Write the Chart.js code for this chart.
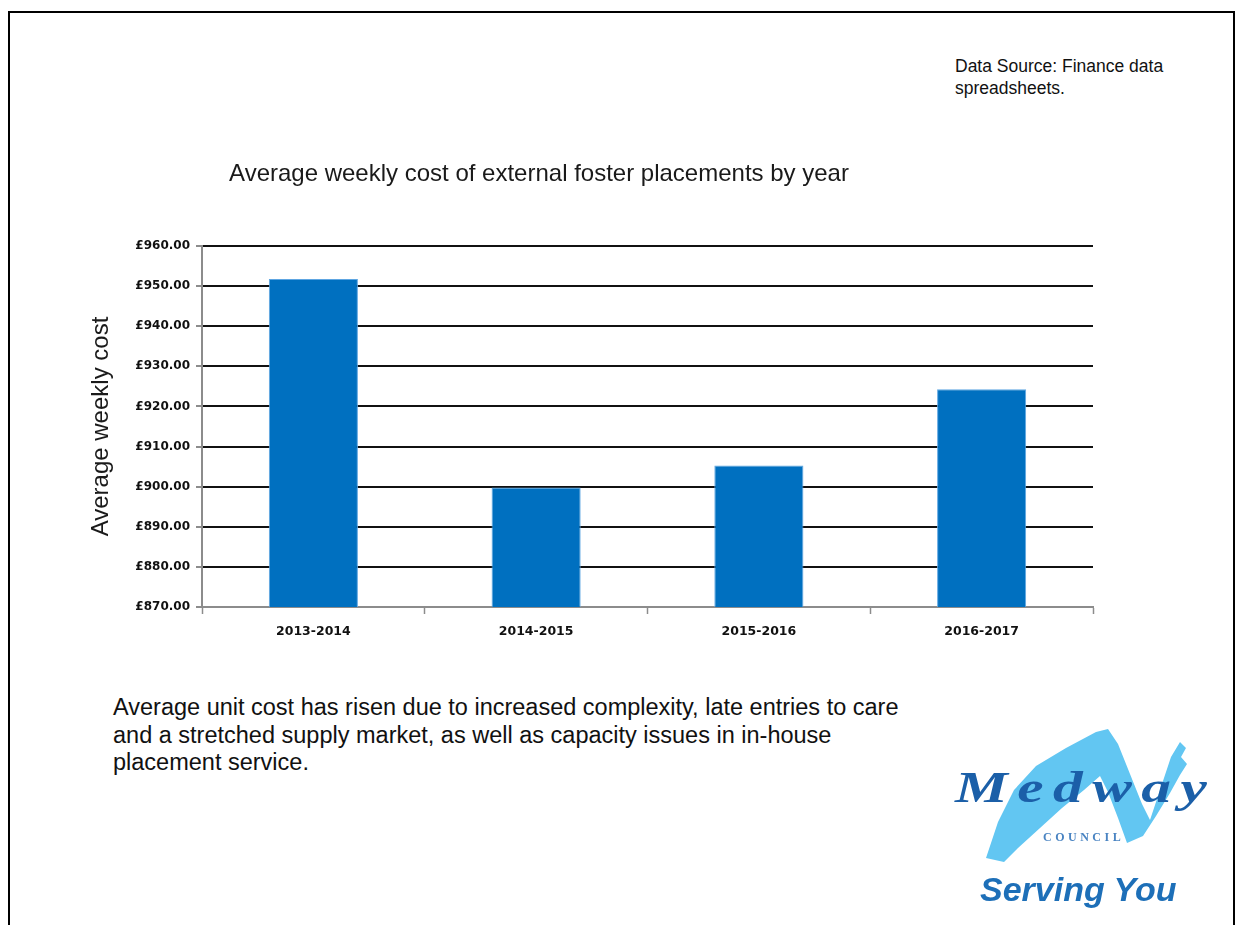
<!DOCTYPE html>
<html>
<head>
<meta charset="utf-8">
<title>Average weekly cost of external foster placements by year</title>
<script src="https://cdn.jsdelivr.net/npm/chart.js@4.4.0/dist/chart.umd.min.js"></script>
<style>
  html, body {
    margin: 0;
    padding: 0;
    background: #fff;
    width: 1237px;
    height: 925px;
    overflow: hidden;
    position: relative;
    font-family: "Liberation Sans", Arial, sans-serif;
    color: #111;
  }
  .frame {
    position: absolute;
    left: 8px;
    top: 11px;
    width: 1227px;
    height: 1000px;
    border: 2px solid #000;
    box-sizing: border-box;
  }
  .source {
    position: absolute;
    left: 955px;
    top: 55px;
    font-size: 17.5px;
    line-height: 22px;
    color: #111;
  }
  #chartBox {
    position: absolute;
    left: -15px;
    top: 0;
    width: 1130px;
    height: 680px;
  }
  .note {
    position: absolute;
    left: 113px;
    top: 694px;
    font-size: 23.5px;
    line-height: 27.5px;
    color: #111;
    white-space: nowrap;
  }
  .logo-wave {
    position: absolute;
    left: 0;
    top: 0;
  }
  .medway {
    position: absolute;
    left: 955px;
    top: 766px;
    font-family: "Liberation Serif", "Times New Roman", serif;
    font-weight: bold;
    font-style: italic;
    font-size: 44px;
    line-height: 1;
    letter-spacing: 7px;
    color: #1b5fa8;
    white-space: nowrap;
    transform: scaleX(1.35);
    transform-origin: 0 0;
  }
  .council {
    position: absolute;
    left: 1043px;
    top: 831px;
    font-family: "Liberation Serif", "Times New Roman", serif;
    font-weight: bold;
    font-size: 12px;
    line-height: 1;
    letter-spacing: 3.5px;
    color: #4a84c2;
    white-space: nowrap;
  }
  .serving {
    position: absolute;
    left: 980px;
    top: 872px;
    font-family: "Liberation Sans", Arial, sans-serif;
    font-weight: bold;
    font-style: italic;
    font-size: 34px;
    line-height: 1;
    color: #1d6fb8;
    white-space: nowrap;
  }
</style>
</head>
<body>
<div class="frame"></div>

<div class="source">Data Source: Finance data<br>spreadsheets.</div>

<div id="chartBox"><canvas id="chart" width="1130" height="680"></canvas></div>

<div class="note">Average unit cost has risen due to increased complexity, late entries to care<br>and a stretched supply market, as well as capacity issues in in-house<br>placement service.</div>

<!-- council logo -->
<svg class="logo-wave" width="1237" height="925" viewBox="0 0 1237 925">
  <path fill="#62c6f2" d="M986 858 L998 822 L1014 790 L1036 766 L1066 748 L1096 732 L1108 729
    L1118 744 L1130 774 L1142 804 L1150 820 L1160 790 L1171 757 L1180 742
    L1186 748 L1181 757 L1187 764 L1180 775 L1170 793 L1156 816 L1143 836 L1127 843
    L1118 818 L1108 792 L1100 776 L1084 790 L1062 808 L1040 828 L1018 848 L1004 862 Z"/>
</svg>
<div class="medway">Medway</div>
<div class="council">COUNCIL</div>
<div class="serving">Serving You</div>

<script>
// Financial years on the category axis
const years = ['2013-2014', '2014-2015', '2015-2016', '2016-2017'];
// Average weekly cost (£) per year
const weeklyCost = [951.8, 899.8, 905.3, 924.3];
// Value axis range and step (£)
const axisMin = 870;
const axisMax = 960;
const axisStep = 10;

const chartTitle = 'Average weekly cost of external foster placements by year';
const yAxisTitle = 'Average weekly cost';

const AXIS_GREY = '#8c8c8c';

new Chart(document.getElementById('chart'), {
  type: 'bar',
  data: {
    labels: years,
    datasets: [{
      data: weeklyCost,
      backgroundColor: '#0070c0',
      borderColor: '#5ea6e2',
      borderWidth: 1,
      categoryPercentage: 1.0,
      barPercentage: 0.4
    }]
  },
  options: {
    responsive: false,
    animation: false,
    layout: {
      padding: { top: 140, left: 0, right: 22, bottom: 0 }
    },
    plugins: {
      legend: { display: false },
      tooltip: { enabled: false },
      title: {
        display: true,
        text: chartTitle,
        color: '#1a1a1a',
        font: { family: '"Liberation Sans", Arial, sans-serif', size: 24, weight: 'normal' },
        padding: { top: 20, bottom: 57.2 }
      }
    },
    scales: {
      x: {
        border: { display: true, color: AXIS_GREY, width: 2 },
        grid: {
          display: true,
          drawOnChartArea: false,
          drawTicks: true,
          tickLength: 7,
          tickColor: AXIS_GREY,
          tickWidth: 1.5
        },
        ticks: {
          color: '#111',
          padding: 10,
          font: { family: '"DejaVu Sans", sans-serif', size: 12.5, weight: 'bold' }
        },
        afterFit(scale) { scale.height = 73; }
      },
      y: {
        min: axisMin,
        max: axisMax,
        border: { display: true, color: AXIS_GREY, width: 2 },
        grid: {
          color: (ctx) => (ctx.tick && ctx.tick.value === axisMin ? AXIS_GREY : '#111'),
          lineWidth: 2,
          tickLength: 6,
          tickColor: AXIS_GREY,
          tickWidth: 2
        },
        ticks: {
          stepSize: axisStep,
          color: '#111',
          padding: 6,
          font: { family: '"DejaVu Sans", sans-serif', size: 12, weight: 'bold' },
          callback: (v) => '£' + Number(v).toFixed(2)
        },
        title: {
          display: true,
          text: yAxisTitle,
          color: '#1a1a1a',
          font: { family: '"Liberation Sans", Arial, sans-serif', size: 24, weight: 'normal' },
          padding: { top: 102.3, bottom: 0 }
        },
        afterFit(scale) { scale.width = 217; }
      }
    }
  }
});
</script>
</body>
</html>
